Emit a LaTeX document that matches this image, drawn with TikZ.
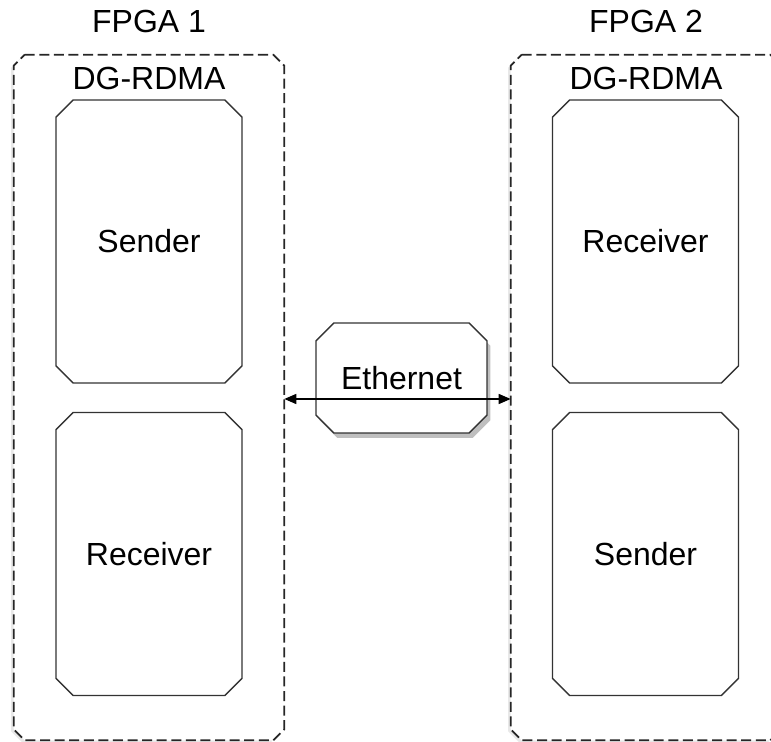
\documentclass[tikz,border=0pt]{standalone}
\usepackage{fontspec}
\setmainfont{Liberation Sans}
\usetikzlibrary{shapes.misc, shadows, arrows.meta, positioning}
\definecolor{boxLine}{HTML}{333333}

\tikzset{
  fpgaArea/.style={rectangle, minimum width=5.4cm, minimum height=13.7cm, inner sep=0pt},
  frameLine/.style={draw=black!85, line width=1pt, dash pattern=on 5.7pt off 2.6pt, fill=white,
    drop shadow={shadow xshift=-0.05cm, shadow yshift=-0.04cm, opacity=0.18}},
  engine/.style={chamfered rectangle, chamfered rectangle xsep=0.22cm,
    draw=boxLine, line width=0.8pt, fill=white,
    minimum width=3.72cm, minimum height=5.66cm, inner sep=0pt},
  netBox/.style={chamfered rectangle, chamfered rectangle xsep=0.24cm,
    draw=boxLine, line width=0.8pt, fill=white,
    minimum width=3.42cm, minimum height=2.2cm, inner sep=0pt,
    drop shadow={shadow xshift=0.07cm, shadow yshift=-0.1cm, opacity=0.5}}
}

\begin{document}
\begin{tikzpicture}[x=0.02cm, y=-0.02cm, font=\fontsize{18.2}{22}\selectfont]
    \useasboundingbox (0,0) rectangle (771,742);
    % boards
    \node[fpgaArea] (fpga1) at (149,397.5) {};
    \node[fpgaArea] (fpga2) at (646,397.5) {};
    \foreach \f in {fpga1,fpga2}
        \draw[frameLine] ([xshift=0.22cm]\f.north west) -- ([xshift=-0.22cm]\f.north east)
            -- ([yshift=-0.22cm]\f.north east) -- ([yshift=0.22cm]\f.south east)
            -- ([xshift=-0.22cm]\f.south east) -- ([xshift=0.22cm]\f.south west)
            -- ([yshift=0.22cm]\f.south west) -- ([yshift=-0.22cm]\f.north west) -- cycle;
    \node (title1) at (149,22) {FPGA 1};
    \node (title2) at (646,22) {FPGA 2};
    \node (core1) at (149,78) {DG-RDMA};
    \node (core2) at (646,78) {DG-RDMA};
    % engines
    \node[engine] (send1) at (149,241.5) {Sender};
    \node[engine] (recv1) at (149,554) {Receiver};
    \node[engine] (recv2) at (645.5,241.5) {Receiver};
    \node[engine] (send2) at (645.5,554) {Sender};
    % link
    \node[netBox] (eth) at (401.5,378) {Ethernet};
    \coordinate (link) at (401.5,399);
    \draw[{Triangle[length=6.8pt,width=5.7pt]}-{Triangle[length=6.8pt,width=5.7pt]}, line width=0.7pt]
        (fpga1.east |- link) -- (fpga2.west |- link);
\end{tikzpicture}
\end{document}
